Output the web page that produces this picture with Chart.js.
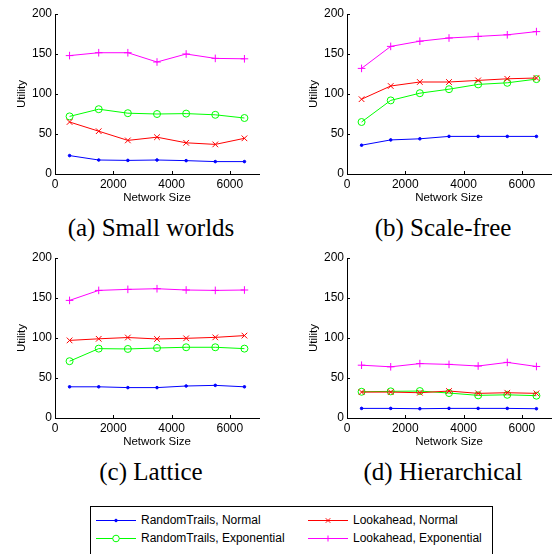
<!DOCTYPE html>
<html><head><meta charset="utf-8">
<script src="https://cdn.jsdelivr.net/npm/chart.js@4/dist/chart.umd.min.js"></script>
<style>
html,body{margin:0;padding:0;background:#fff;width:552px;height:554px;overflow:hidden;position:relative}
canvas.c{position:absolute}
.cap{position:absolute;font-family:"Liberation Serif","Times New Roman",serif;font-size:25px;color:#000;white-space:nowrap;transform:translate(-50%,-50%);line-height:1}
#leg{position:absolute;left:90px;top:506px;width:401px;height:60px;border:1px solid #000;background:#fff}
.lt{position:absolute;font-family:"Liberation Sans",Arial,sans-serif;font-size:12px;color:#000;white-space:nowrap;transform:translateY(-50%);line-height:1}
.ls{position:absolute}
</style></head><body>
<canvas class="c" id="ca" width="264" height="205" style="left:0;top:0"></canvas>
<canvas class="c" id="cb" width="264" height="205" style="left:292px;top:0"></canvas>
<canvas class="c" id="cc" width="264" height="205" style="left:0;top:244px"></canvas>
<canvas class="c" id="cd" width="264" height="205" style="left:292px;top:244px"></canvas>
<div class="cap" id="capa" style="left:151px;top:227px"></div>
<div class="cap" id="capb" style="left:443px;top:227px"></div>
<div class="cap" id="capc" style="left:151px;top:471px"></div>
<div class="cap" id="capd" style="left:443px;top:471px"></div>
<div id="leg"></div>
<script>
// ---- data ----
const networkSizes = [500, 1500, 2500, 3500, 4500, 5500, 6500];
const seriesNames = ['RandomTrails, Normal', 'RandomTrails, Exponential', 'Lookahead, Normal', 'Lookahead, Exponential'];
const xTickValues = [0, 2000, 4000, 6000];
const yTickValues = [0, 50, 100, 150, 200];
const captions = ['(a) Small worlds', '(b) Scale-free', '(c) Lattice', '(d) Hierarchical'];

// (a) Small worlds
const smallRandomNormal = [23, 17.5, 17, 17.5, 16.7, 15.5, 15.5];
const smallRandomExp = [72, 81, 76, 75, 75.5, 74, 70];
const smallLookNormal = [65, 53.5, 42, 46, 39, 37, 44.6];
const smallLookExp = [148, 151.6, 151.6, 140, 150, 144.5, 144];
// (b) Scale-free
const scaleRandomNormal = [36, 42.6, 44, 47, 47, 47, 47];
const scaleRandomExp = [65, 92, 101, 106, 112, 114, 118.6];
const scaleLookNormal = [93.5, 110, 115, 115, 117, 119, 120];
const scaleLookExp = [132, 159.5, 166, 170, 172, 174, 178];
// (c) Lattice
const latticeRandomNormal = [39, 39, 38, 38, 40, 40.8, 39];
const latticeRandomExp = [71, 86.7, 86.3, 87.5, 88.4, 88.4, 86.7];
const latticeLookNormal = [97, 99, 100.6, 98.8, 99.6, 100.8, 103];
const latticeLookExp = [147, 159.5, 160.8, 161.6, 160, 159.5, 160];
// (d) Hierarchical
const hierRandomNormal = [12, 12, 11.6, 12, 12, 12, 11.6];
const hierRandomExp = [32.8, 33.3, 33.7, 31.2, 28.3, 29, 27.9];
const hierLookNormal = [32.4, 32.4, 31.6, 33.7, 30.8, 31.6, 30.8];
const hierLookExp = [66, 64, 68, 67, 65, 69.5, 64.4];

// ---- styles ----
const styles = [
  {color: '#0000ff', pointStyle: 'circle', radius: 1.3, bg: '#0000ff'},
  {color: '#00ff00', pointStyle: 'circle', radius: 3.5, bg: 'rgba(0,0,0,0)'},
  {color: '#ff0000', pointStyle: 'crossRot', radius: 4, bg: '#ff0000'},
  {color: '#ff00ff', pointStyle: 'cross', radius: 3.8, bg: '#ff00ff'}
];
const SANS = '"Liberation Sans", Arial, Helvetica, sans-serif';

const inwardTicks = {
  id: 'inwardTicks',
  afterDatasetsDraw(chart) {
    const {ctx, chartArea: a, scales: {x, y}} = chart;
    ctx.save();
    ctx.strokeStyle = '#000';
    ctx.lineWidth = 1;
    ctx.beginPath();
    x.ticks.forEach(t => {
      const px = Math.round(x.getPixelForValue(t.value)) + 0.5;
      ctx.moveTo(px, a.bottom);
      ctx.lineTo(px, a.bottom - 3);
    });
    y.ticks.forEach(t => {
      const py = Math.round(y.getPixelForValue(t.value)) + 0.5;
      ctx.moveTo(a.left, py);
      ctx.lineTo(a.left + 3, py);
    });
    ctx.stroke();
    ctx.restore();
  }
};

function makeChart(id, seriesList) {
  // seriesList in legend order: RandomNormal, RandomExp, LookNormal, LookExp
  const datasets = seriesList.map((vals, i) => ({
    label: seriesNames[i],
    data: networkSizes.map((n, k) => ({x: n, y: vals[k]})),
    borderColor: styles[i].color,
    backgroundColor: styles[i].bg,
    pointBorderColor: styles[i].color,
    pointBackgroundColor: styles[i].bg,
    pointStyle: styles[i].pointStyle,
    pointRadius: styles[i].radius,
    pointBorderWidth: 1,
    borderWidth: 1,
    tension: 0,
    fill: false
  })).reverse(); // first dataset drawn on top in Chart.js
  new Chart(document.getElementById(id), {
    type: 'line',
    data: {datasets},
    plugins: [inwardTicks],
    options: {
      responsive: false,
      animation: false,
      events: [],
      layout: {padding: {top: 14, right: 1, left: 0, bottom: 0}},
      plugins: {legend: {display: false}, tooltip: {enabled: false}},
      scales: {
        x: {
          type: 'linear', min: 0, max: 7000,
          afterBuildTicks: s => { s.ticks = xTickValues.map(v => ({value: v})); },
          afterFit: s => { s.height = 31; },
          grid: {display: false, drawTicks: false},
          border: {display: true, color: '#000', width: 1},
          ticks: {font: {family: SANS, size: 12}, color: '#000', padding: 3, maxRotation: 0, autoSkip: false, callback: v => String(v)},
          title: {display: true, text: 'Network Size', color: '#000', font: {family: SANS, size: 11.5}, padding: 0}
        },
        y: {
          type: 'linear', min: 0, max: 200,
          afterBuildTicks: s => { s.ticks = yTickValues.map(v => ({value: v})); },
          afterFit: s => { s.width = 55; },
          grid: {display: false, drawTicks: false},
          border: {display: true, color: '#000', width: 1},
          ticks: {font: {family: SANS, size: 12}, color: '#000', padding: 3, autoSkip: false, callback: v => String(v)},
          title: {display: true, text: 'Utility', color: '#000', font: {family: SANS, size: 11.5}, padding: {top: 15, bottom: 0}}
        }
      }
    }
  });
}

makeChart('ca', [smallRandomNormal, smallRandomExp, smallLookNormal, smallLookExp]);
makeChart('cb', [scaleRandomNormal, scaleRandomExp, scaleLookNormal, scaleLookExp]);
makeChart('cc', [latticeRandomNormal, latticeRandomExp, latticeLookNormal, latticeLookExp]);
makeChart('cd', [hierRandomNormal, hierRandomExp, hierLookNormal, hierLookExp]);

['capa', 'capb', 'capc', 'capd'].forEach((id, i) => { document.getElementById(id).textContent = captions[i]; });

// ---- legend ----
const leg = document.getElementById('leg');
const legPos = [[4, 13], [4, 31], [216, 13], [216, 31]];
const NS = 'http://www.w3.org/2000/svg';
seriesNames.forEach((name, i) => {
  const [lx, cy] = legPos[i];
  const st = styles[i];
  const svg = document.createElementNS(NS, 'svg');
  svg.setAttribute('width', '42'); svg.setAttribute('height', '12');
  svg.setAttribute('class', 'ls');
  svg.style.left = lx + 'px'; svg.style.top = (cy - 6) + 'px';
  const line = document.createElementNS(NS, 'line');
  line.setAttribute('x1', 1); line.setAttribute('x2', 41); line.setAttribute('y1', 6.5); line.setAttribute('y2', 6.5);
  line.setAttribute('stroke', st.color); line.setAttribute('stroke-width', 1);
  svg.appendChild(line);
  const mx = 21, my = 6.5;
  if (st.pointStyle === 'circle') {
    const c = document.createElementNS(NS, 'circle');
    c.setAttribute('cx', mx); c.setAttribute('cy', my); c.setAttribute('r', i === 0 ? 1.3 : 3.3);
    c.setAttribute('stroke', st.color); c.setAttribute('fill', i === 0 ? st.color : 'white');
    svg.appendChild(c);
  } else {
    const p = document.createElementNS(NS, 'path');
    const r = 3;
    const d = st.pointStyle === 'cross'
      ? `M${mx - r} ${my} L${mx + r} ${my} M${mx} ${my - r} L${mx} ${my + r}`
      : `M${mx - r * 0.75} ${my - r * 0.75} L${mx + r * 0.75} ${my + r * 0.75} M${mx - r * 0.75} ${my + r * 0.75} L${mx + r * 0.75} ${my - r * 0.75}`;
    p.setAttribute('d', d); p.setAttribute('stroke', st.color); p.setAttribute('stroke-width', 1);
    svg.appendChild(p);
  }
  leg.appendChild(svg);
  const t = document.createElement('div');
  t.className = 'lt';
  t.style.left = (lx + 46) + 'px';
  t.style.top = cy + 'px';
  t.textContent = name;
  leg.appendChild(t);
});
</script>
</body></html>
